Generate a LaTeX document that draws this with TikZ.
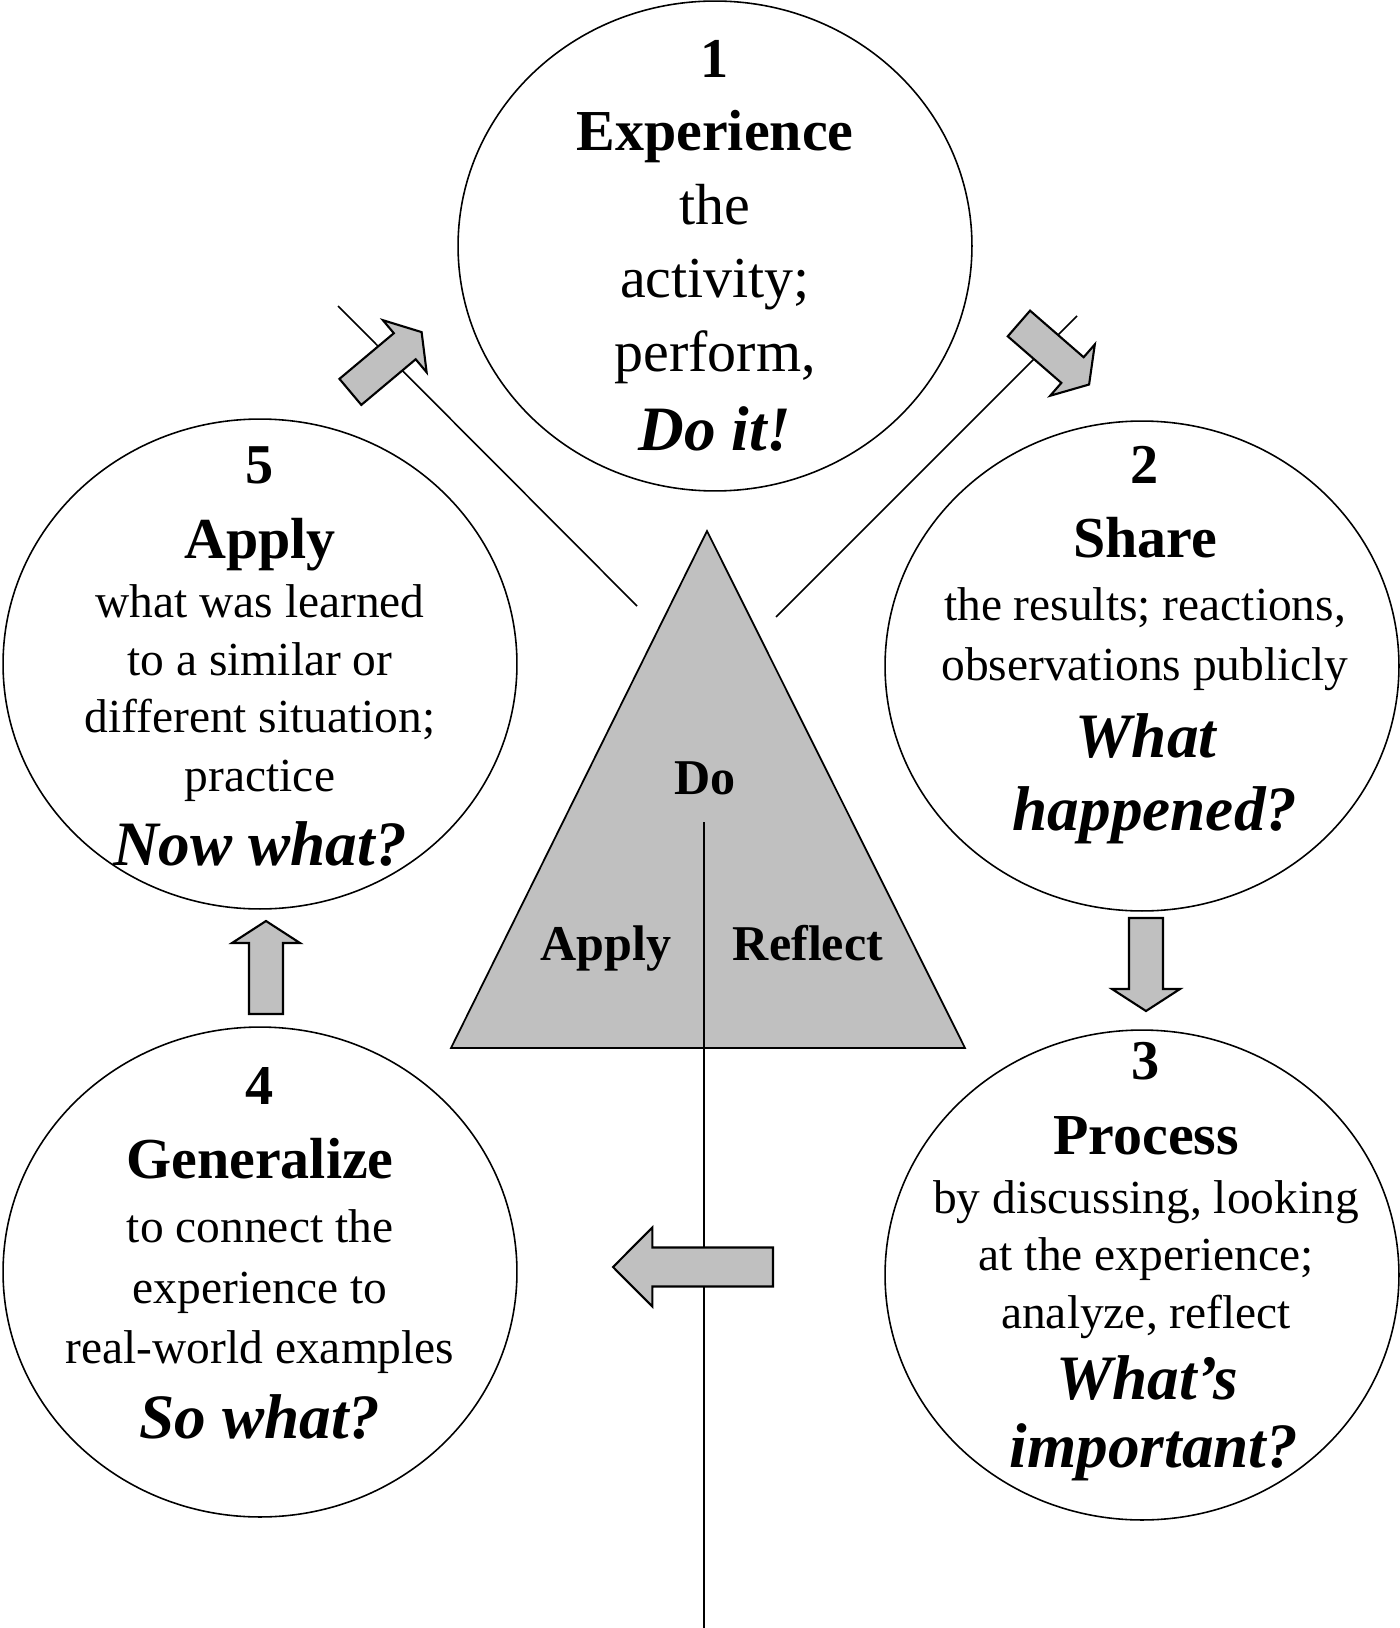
\documentclass[tikz,border=0pt]{standalone}
\usepackage{fontspec}
\setmainfont{Liberation Serif}
\usetikzlibrary{shapes.geometric}
\definecolor{silver}{HTML}{C0C0C0}

\begin{document}
\begin{tikzpicture}[x=0.02cm,y=-0.02cm,
  stage/.style={ellipse,draw,line width=0.9pt,minimum width=10.28cm,
    minimum height=9.8cm,inner sep=0pt},
  numtxt/.style={anchor=base,inner sep=0pt,font=\fontsize{32}{38}\selectfont\bfseries},
  headtxt/.style={anchor=base,inner sep=0pt,font=\fontsize{33}{40}\selectfont\bfseries},
  bodytxt/.style={anchor=base,inner sep=0pt,font=\fontsize{27}{33}\selectfont},
  bigtxt/.style={anchor=base,inner sep=0pt,font=\fontsize{33}{40}\selectfont},
  asktxt/.style={anchor=base,inner sep=0pt,font=\fontsize{36}{43}\selectfont\bfseries\itshape},
  tritxt/.style={anchor=base,inner sep=0pt,font=\fontsize{28.5}{34}\selectfont\bfseries},
  blockarrow/.style={draw,fill=silver,line width=1.2pt}]
\useasboundingbox (0,0) rectangle (1399,1628);

% triangle in the middle
\draw[fill=silver,line width=1pt] (707,531) -- (965,1048) -- (451,1048) -- cycle;
\node[tritxt] (do) at (705,794) {Do};
\node[tritxt] (apply) at (606,960) {Apply};
\node[tritxt] (reflect) at (808,960) {Reflect};

\coordinate (stem) at (704,822);
\coordinate (foot) at (704,1628);
\draw[line width=1pt] (stem) -- (foot);

\coordinate (nw1) at (338,306);
\coordinate (nw2) at (637,606);
\coordinate (ne1) at (1077,316);
\coordinate (ne2) at (776,617);
\draw[line width=0.9pt] (nw1) -- (nw2);
\draw[line width=0.9pt] (ne1) -- (ne2);

% the five stages
\node[stage] (stage1) at (715,246) {};
\node[stage] (stage2) at (1142,666) {};
\node[stage] (stage3) at (1142,1275) {};
\node[stage] (stage4) at (260,1272) {};
\node[stage] (stage5) at (260,664) {};

\foreach \y/\st/\txt [count=\i] in {78/numtxt/{1}, 151/headtxt/{Experience},
    225/bigtxt/{the}, 298/bigtxt/{activity;}, 372/bigtxt/{perform,},
    450/asktxt/{Do it!}}
  \node[\st] (s1-\i) at (715,\y) {\txt};

\foreach \x/\y/\st/\txt [count=\i] in {1145/483/numtxt/{2}, 1145/557/headtxt/{Share},
    1145/620/bodytxt/{the results; reactions,}, 1145/680/bodytxt/{observations publicly},
    1146/757/asktxt/{What}, 1155/830/asktxt/{happened?}}
  \node[\st] (s2-\i) at (\x,\y) {\txt};

\foreach \x/\y/\st/\txt [count=\i] in {1146/1079/numtxt/{3}, 1146/1154/headtxt/{Process},
    1146/1213/bodytxt/{by discussing, looking}, 1146/1270/bodytxt/{at the experience;},
    1146/1328/bodytxt/{analyze, reflect}, 1147/1399/asktxt/{What’s},
    1154/1467/asktxt/{important?}}
  \node[\st] (s3-\i) at (\x,\y) {\txt};

\foreach \y/\st/\txt [count=\i] in {1104/numtxt/{4}, 1178/headtxt/{Generalize},
    1242/bodytxt/{to connect the}, 1303/bodytxt/{experience to},
    1363/bodytxt/{real-world examples}, 1438/asktxt/{So what?}}
  \node[\st] (s4-\i) at (260,\y) {\txt};

\foreach \y/\st/\txt [count=\i] in {483/numtxt/{5}, 558/headtxt/{Apply},
    617/bodytxt/{what was learned}, 675/bodytxt/{to a similar or},
    732/bodytxt/{different situation;}, 791/bodytxt/{practice},
    865/asktxt/{Now what?}}
  \node[\st] (s5-\i) at (260,\y) {\txt};

% block arrows between the stages
\begin{scope}[shift={(386,362)},rotate=40]
\draw[blockarrow] (-46.5,-17) -- ++(71,0) -- ++(0,-17) -- ++(22,34)
  -- ++(-22,34) -- ++(0,-17) -- ++(-71,0) -- cycle;
\end{scope}
\begin{scope}[shift={(1054,354)},rotate=-41]
\draw[blockarrow] (-46.5,-17) -- ++(71,0) -- ++(0,-17) -- ++(22,34)
  -- ++(-22,34) -- ++(0,-17) -- ++(-71,0) -- cycle;
\end{scope}
\begin{scope}[shift={(1146,964.5)},rotate=-90]
\draw[blockarrow] (-46.5,-17) -- ++(71,0) -- ++(0,-17) -- ++(22,34)
  -- ++(-22,34) -- ++(0,-17) -- ++(-71,0) -- cycle;
\end{scope}
\begin{scope}[shift={(693,1267)},rotate=180]
\draw[blockarrow] (-80,-19.5) -- ++(120.6,0) -- ++(0,-20) -- ++(39.4,39.5)
  -- ++(-39.4,39.5) -- ++(0,-20) -- ++(-120.6,0) -- cycle;
\end{scope}
\begin{scope}[shift={(266,967.5)},rotate=90]
\draw[blockarrow] (-46.5,-17) -- ++(71,0) -- ++(0,-17) -- ++(22,34)
  -- ++(-22,34) -- ++(0,-17) -- ++(-71,0) -- cycle;
\end{scope}

\end{tikzpicture}
\end{document}
